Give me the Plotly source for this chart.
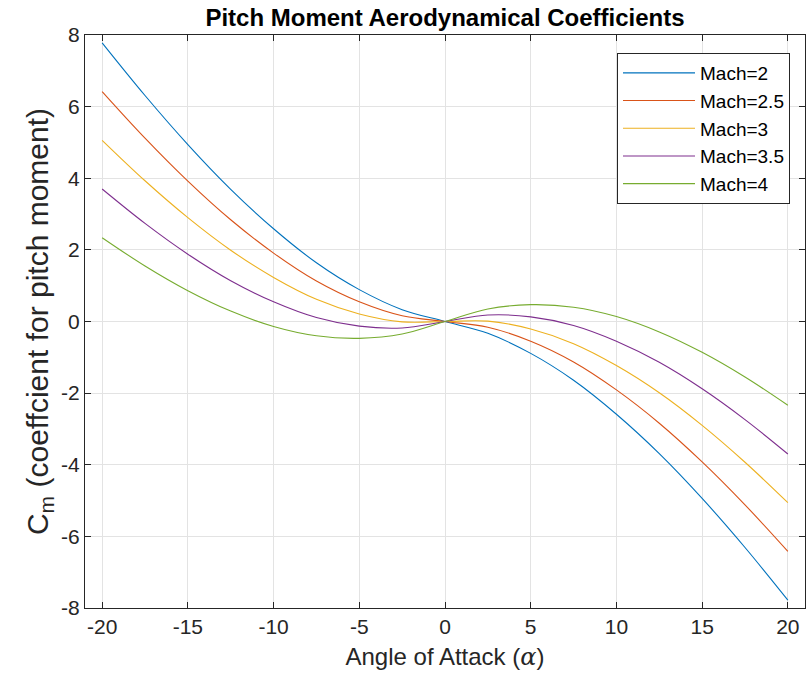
import plotly.graph_objects as go

alpha = [-20, -17.5, -15, -12.5, -10, -7.5, -5, -2.5, 0, 2.5, 5, 7.5, 10, 12.5, 15, 17.5, 20]

cm_mach2 = [7.78, 6.31, 4.94, 3.69, 2.59, 1.64, 0.89, 0.33, 0.0, -0.33, -0.89, -1.64, -2.59, -3.69, -4.94, -6.31, -7.78]
cm_mach25 = [6.42, 5.12, 3.92, 2.84, 1.91, 1.13, 0.55, 0.16, 0.0, -0.16, -0.55, -1.13, -1.91, -2.84, -3.92, -5.12, -6.42]
cm_mach3 = [5.06, 3.93, 2.90, 1.99, 1.23, 0.62, 0.21, -0.01, 0.0, 0.01, -0.21, -0.62, -1.23, -1.99, -2.90, -3.93, -5.06]
cm_mach35 = [3.70, 2.74, 1.88, 1.14, 0.55, 0.11, -0.13, -0.18, 0.0, 0.18, 0.13, -0.11, -0.55, -1.14, -1.88, -2.74, -3.70]
cm_mach4 = [2.34, 1.55, 0.86, 0.29, -0.14, -0.40, -0.47, -0.35, 0.0, 0.35, 0.47, 0.40, 0.14, -0.29, -0.86, -1.55, -2.34]

series = [
    ("Mach=2", cm_mach2, "#0072BD"),
    ("Mach=2.5", cm_mach25, "#D95319"),
    ("Mach=3", cm_mach3, "#EDB120"),
    ("Mach=3.5", cm_mach35, "#7E2F8E"),
    ("Mach=4", cm_mach4, "#77AC30"),
]

x_ticks = [-20, -15, -10, -5, 0, 5, 10, 15, 20]
y_ticks = [-8, -6, -4, -2, 0, 2, 4, 6, 8]

fig = go.Figure()
for name, vals, col in series:
    fig.add_trace(go.Scatter(x=alpha, y=vals, mode="lines", name=name,
                             line=dict(color=col, width=1.1, shape="spline", smoothing=1.0)))

font_main = "Liberation Sans, Arial, sans-serif"
axis_common = dict(showline=True, linecolor="#262626", linewidth=1, mirror="ticks",
                   ticks="inside", ticklen=6, tickcolor="#262626",
                   showgrid=True, gridcolor="#e3e3e3", gridwidth=1, zeroline=False,
                   tickfont=dict(family=font_main, size=21, color="#262626"))

fig.update_layout(
    width=807, height=679,
    margin=dict(l=85, r=2, t=35, b=71),
    paper_bgcolor="white", plot_bgcolor="white",
    title=dict(text="<b>Pitch Moment Aerodynamical Coefficients</b>",
               x=(85 + 360) / 807, xanchor="center", y=1 - 18 / 679, yanchor="middle",
               font=dict(family=font_main, size=24, color="black")),
    xaxis=dict(range=[-21, 21], tickvals=x_ticks, ticktext=[str(v) for v in x_ticks],
               title=dict(text='Angle of Attack (<i><span style="font-family:DejaVu Serif">α</span></i>)',
                          font=dict(family=font_main, size=24, color="#262626"), standoff=10),
               **axis_common),
    yaxis=dict(range=[-8, 8], tickvals=y_ticks, ticktext=[str(v) for v in y_ticks],
               title=dict(text="C<sub>m</sub> (coeffcient for pitch moment)",
                          font=dict(family=font_main, size=30, color="#262626"), standoff=3),
               **axis_common),
    legend=dict(x=(790 - 85) / 720, xanchor="right", y=(608 - 53) / 573, yanchor="top",
                bgcolor="white", bordercolor="#262626", borderwidth=1,
                font=dict(family=font_main, size=19, color="black"),
                tracegroupgap=0, itemwidth=72),
    showlegend=True,
)

fig.write_html("out.html")
